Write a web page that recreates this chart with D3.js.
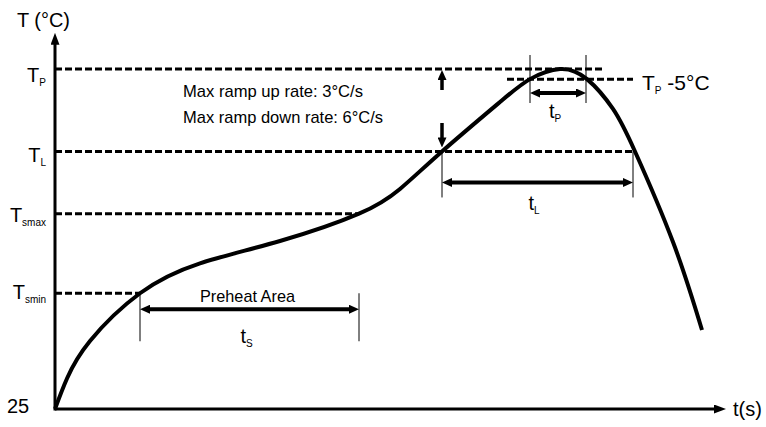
<!DOCTYPE html>
<html>
<head>
<meta charset="utf-8">
<script src="https://cdn.jsdelivr.net/npm/d3@7"></script>
<style>
  body { margin: 0; background: #fff; }
  text { font-family: "Liberation Sans", Arial, sans-serif; fill: #000; }
</style>
</head>
<body>
<div id="chart"></div>
<script>
const width = 766;
const height = 427;

// reflow profile, time (s) vs temperature (°C), schematic
const profileTime = [0, 6, 17.5, 42.5, 72.5, 112.5, 152, 172.5, 193.5, 222.5, 237.5, 252.5, 266, 279, 290, 309, 323.5];
const profileTemp = [25, 46.1, 72, 105, 125.7, 141.1, 160, 177.1, 203, 237.2, 253, 260, 253, 232.4, 203, 140.4, 79.6];

// temperature levels shown on the y axis
const levelNames = ["P", "L", "smax", "smin"];
const levelTemps = [260, 203, 160, 105];
const levelEnds = [273.5, 289, 152, 42.5];

// time spans
const spanNames = ["S", "L", "P"];
const spanStart = [42.5, 193.5, 237.5];
const spanEnd = [152, 289, 265.5];

const peakMinus = 253;
const peakMinusRange = [226, 289];
const rampTexts = ["Max ramp up rate: 3°C/s", "Max ramp down rate: 6°C/s"];

const x = d3.scaleLinear().domain([0, 350]).range([55, 755]);
const y = d3.scaleLinear().domain([25, 260]).range([409, 69]);

const svg = d3
  .select("#chart")
  .append("svg")
  .attr("width", width)
  .attr("height", height);

const defs = svg.append("defs");
function marker(id, w, h) {
  defs
    .append("marker")
    .attr("id", id)
    .attr("viewBox", `0 0 ${w} ${h}`)
    .attr("refX", 3)
    .attr("refY", h / 2)
    .attr("markerWidth", w)
    .attr("markerHeight", h)
    .attr("markerUnits", "userSpaceOnUse")
    .attr("orient", "auto-start-reverse")
    .append("path")
    .attr("d", `M0,0L${w},${h / 2}L0,${h}Z`)
    .attr("fill", "#000");
}
marker("head", 10, 9);
marker("axisHead", 12, 9);

// axes
svg
  .append("line")
  .attr("x1", x(0))
  .attr("x2", x(335.5) - 9)
  .attr("y1", y(25))
  .attr("y2", y(25))
  .attr("stroke", "#000")
  .attr("stroke-width", 3)
  .attr("marker-end", "url(#axisHead)");

svg
  .append("line")
  .attr("x1", x(0))
  .attr("x2", x(0))
  .attr("y1", y(25) + 1.5)
  .attr("y2", y(285) + 9)
  .attr("stroke", "#000")
  .attr("stroke-width", 3)
  .attr("marker-end", "url(#axisHead)");

svg.append("text").attr("x", 17).attr("y", 27).attr("font-size", 20).attr("textLength", 53).attr("lengthAdjust", "spacingAndGlyphs").text("T (°C)");
svg.append("text").attr("x", 733).attr("y", 416).attr("font-size", 20).text("t(s)");
svg.append("text").attr("x", 7).attr("y", 413).attr("font-size", 20).text("25");

// dashed level guides
const levels = levelNames.map((n, i) => ({ name: n, temp: levelTemps[i], end: levelEnds[i] }));
const labelDy = [13, 11, 8, 6];

svg
  .selectAll(".guide")
  .data(levels)
  .join("line")
  .attr("class", "guide")
  .attr("x1", x(0))
  .attr("x2", (d) => x(d.end))
  .attr("y1", (d) => y(d.temp))
  .attr("y2", (d) => y(d.temp))
  .attr("stroke", "#000")
  .attr("stroke-width", 3)
  .attr("stroke-dasharray", "7,3");

const levelLabels = svg
  .selectAll(".level-label")
  .data(levels)
  .join("text")
  .attr("class", "level-label")
  .attr("text-anchor", "end")
  .attr("x", 46)
  .attr("y", (d, i) => y(d.temp) + labelDy[i])
  .attr("font-size", 20);
levelLabels.append("tspan").text("T");
levelLabels.append("tspan").attr("font-size", 10).attr("dy", 4).text((d) => d.name);

// TP - 5 guide
svg
  .append("line")
  .attr("x1", x(peakMinusRange[0]))
  .attr("x2", x(peakMinusRange[1]))
  .attr("y1", y(peakMinus))
  .attr("y2", y(peakMinus))
  .attr("stroke", "#000")
  .attr("stroke-width", 3)
  .attr("stroke-dasharray", "7,3");

const tp5 = svg.append("text").attr("x", 642).attr("y", 90).attr("font-size", 21);
tp5.append("tspan").text("T");
tp5.append("tspan").attr("font-size", 10).attr("dy", 4).text("P");
tp5.append("tspan").attr("dy", -4).text(" -5°C");

// spans
const spans = spanNames.map((n, i) => ({ name: n, a: spanStart[i], b: spanEnd[i] }));
const spanTop = [y(105), y(203), y(260) - 14];
const spanBottom = [y(105) + 48, y(203) + 46, y(260) + 34];
const spanArrowY = [y(105) + 16, y(203) + 31, y(260) + 24];
const spanLabelY = [343, 210, 118];

spans.forEach((s, i) => {
  [s.a, s.b].forEach((t) => {
    svg
      .append("line")
      .attr("x1", x(t))
      .attr("x2", x(t))
      .attr("y1", spanTop[i])
      .attr("y2", spanBottom[i])
      .attr("stroke", "#000")
      .attr("stroke-width", 1);
  });
  svg
    .append("line")
    .attr("x1", x(s.a) + 7)
    .attr("x2", x(s.b) - 7)
    .attr("y1", spanArrowY[i])
    .attr("y2", spanArrowY[i])
    .attr("stroke", "#000")
    .attr("stroke-width", 4)
    .attr("marker-start", "url(#head)")
    .attr("marker-end", "url(#head)");
  const lbl = svg
    .append("text")
    .attr("x", (x(s.a) + x(s.b)) / 2 - 9)
    .attr("y", spanLabelY[i])
    .attr("font-size", 20);
  lbl.append("tspan").text("t");
  lbl.append("tspan").attr("font-size", 10).attr("dy", 4).text(s.name);
});

svg
  .append("text")
  .attr("x", 200)
  .attr("y", 302)
  .attr("font-size", 17)
  .attr("textLength", 95)
  .attr("lengthAdjust", "spacingAndGlyphs")
  .text("Preheat Area");

// ramp rate arrows and text
const xr = x(spanStart[1]);
svg
  .append("line")
  .attr("x1", xr).attr("x2", xr)
  .attr("y1", 90).attr("y2", y(260) + 8)
  .attr("stroke", "#000").attr("stroke-width", 3.5)
  .attr("marker-end", "url(#head)");
svg
  .append("line")
  .attr("x1", xr).attr("x2", xr)
  .attr("y1", 123).attr("y2", y(203) - 11)
  .attr("stroke", "#000").attr("stroke-width", 3.5)
  .attr("marker-end", "url(#head)");

const rampWidths = [180, 200];
svg
  .selectAll(".ramp")
  .data(rampTexts)
  .join("text")
  .attr("class", "ramp")
  .attr("x", 183)
  .attr("y", (d, i) => 97 + i * 26)
  .attr("font-size", 17)
  .attr("textLength", (d, i) => rampWidths[i])
  .attr("lengthAdjust", "spacingAndGlyphs")
  .text((d) => d);

// profile curve
const profile = profileTime.map((t, i) => [t, profileTemp[i]]);
svg
  .append("path")
  .datum(profile)
  .attr("fill", "none")
  .attr("stroke", "#000")
  .attr("stroke-width", 4)
  .attr("d", d3.line().x((d) => x(d[0])).y((d) => y(d[1])).curve(d3.curveNatural));
</script>
</body>
</html>
